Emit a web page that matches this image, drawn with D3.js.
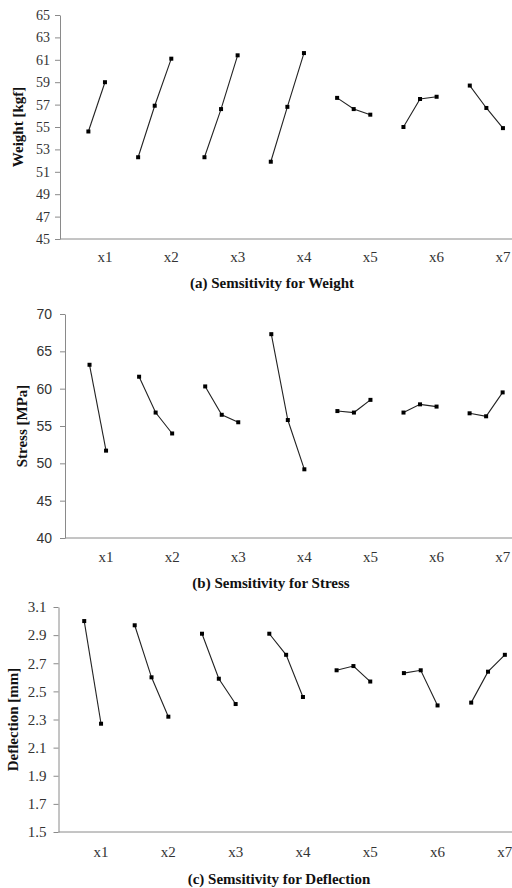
<!DOCTYPE html>
<html>
<head>
<meta charset="utf-8">
<script src="https://cdn.jsdelivr.net/npm/d3@7"></script>
<style>
    body { margin: 0; background: #fff; }
    svg { display: block; }
    .serif { font-family: "Liberation Serif", "Times New Roman", serif; }
    .sans { font-family: "Liberation Sans", Arial, sans-serif; }
</style>
</head>
<body>
<div id="chart"></div>
<script>
// factors and their levels (x1 has only two levels)
const factors = ["x1", "x2", "x3", "x4", "x5", "x6", "x7"];
const levels = ["L1", "L2", "L3"];

// values, one row per factor, one entry per level
const weightValues = [
    [null, 54.6, 59.0],
    [52.3, 56.9, 61.1],
    [52.3, 56.6, 61.4],
    [51.9, 56.8, 61.6],
    [57.6, 56.6, 56.1],
    [55.0, 57.5, 57.7],
    [58.7, 56.7, 54.9]
];
const stressValues = [
    [null, 63.2, 51.7],
    [61.6, 56.8, 54.0],
    [60.3, 56.5, 55.5],
    [67.3, 55.8, 49.2],
    [57.0, 56.8, 58.5],
    [56.8, 57.9, 57.6],
    [56.7, 56.3, 59.5]
];
const deflectionValues = [
    [null, 3.00, 2.27],
    [2.97, 2.60, 2.32],
    [2.91, 2.59, 2.41],
    [2.91, 2.76, 2.46],
    [2.65, 2.68, 2.57],
    [2.63, 2.65, 2.40],
    [2.42, 2.64, 2.76]
];

// tick labels
const weightTicks = [45, 47, 49, 51, 53, 55, 57, 59, 61, 63, 65];
const stressTicks = [40, 45, 50, 55, 60, 65, 70];
const deflectionTicks = [1.5, 1.7, 1.9, 2.1, 2.3, 2.5, 2.7, 2.9, 3.1];

const yTitles = ["Weight [kgf]", "Stress [MPa]", "Deflection [mm]"];
const captions = [
    "(a) Semsitivity for Weight",
    "(b) Semsitivity for Stress",
    "(c) Semsitivity for Deflection"
];

const width = 512,
    height = 888;

const svg = d3
    .select("#chart")
    .append("svg")
    .attr("width", width)
    .attr("height", height);

// each panel was a separate image, so each gets its own geometry
drawPanel({
    values: weightValues, ticks: weightTicks, yTitle: yTitles[0], caption: captions[0],
    top: 15, bottom: 239, axisX: 60, bandStart: 71.8, step: 66.33,
    tickFont: "serif", tickSize: 14, tickPad: 5, fmt: d3.format("d"),
    labelY: 257, captionX: 272, captionY: 283, yTitleX: 18
});
drawPanel({
    values: stressValues, ticks: stressTicks, yTitle: yTitles[1], caption: captions[1],
    top: 314, bottom: 538, axisX: 65, bandStart: 73, step: 66.1,
    tickFont: "sans", tickSize: 14, tickPad: 8, fmt: d3.format("d"),
    labelY: 557, captionX: 271, captionY: 583, yTitleX: 22
});
drawPanel({
    values: deflectionValues, ticks: deflectionTicks, yTitle: yTitles[2], caption: captions[2],
    top: 607, bottom: 832, axisX: 58.5, bandStart: 67.4, step: 67.3,
    tickFont: "serif", tickSize: 15, tickPad: 7, fmt: d3.format(".1f"),
    labelY: 852, captionX: 279, captionY: 879, yTitleX: 13
});

function drawPanel(p) {
    const g = svg.append("g");

    const y = d3
        .scaleLinear()
        .domain(d3.extent(p.ticks))
        .range([p.bottom, p.top]);

    // one band per factor, levels spread over the first half of the band
    const x = d3
        .scaleBand()
        .domain(factors)
        .range([p.bandStart, p.bandStart + factors.length * p.step]);
    const lx = d3
        .scalePoint()
        .domain(levels)
        .range([0, x.bandwidth() / 2]);

    // y axis
    const yAxis = g
        .append("g")
        .attr("transform", "translate(" + p.axisX + ",0)")
        .call(d3.axisLeft(y).tickValues(p.ticks).tickFormat(p.fmt)
            .tickSize(5).tickSizeOuter(0).tickPadding(p.tickPad));
    yAxis.selectAll("path, line").attr("stroke", "#8a8a8a");
    yAxis.selectAll("text")
        .attr("class", p.tickFont)
        .attr("font-size", p.tickSize)
        .attr("fill", "#333");

    // x axis baseline runs past the right edge (cropped)
    g.append("line")
        .attr("x1", p.axisX)
        .attr("x2", width)
        .attr("y1", p.bottom)
        .attr("y2", p.bottom)
        .attr("stroke", "#8a8a8a");

    g.selectAll(".xlab")
        .data(factors)
        .enter()
        .append("text")
        .attr("class", "serif")
        .attr("x", (d) => x(d) + x.bandwidth() / 2)
        .attr("y", p.labelY)
        .attr("dy", "0.35em")
        .attr("text-anchor", "middle")
        .attr("font-size", 15)
        .attr("fill", "#333")
        .text((d) => d);

    const line = d3
        .line()
        .defined((d) => d.v != null)
        .x((d) => x(d.f) + lx(d.l))
        .y((d) => y(d.v));

    factors.forEach((f, i) => {
        const pts = levels.map((l, j) => ({ f: f, l: l, v: p.values[i][j] }));
        g.append("path")
            .datum(pts)
            .attr("d", line)
            .attr("fill", "none")
            .attr("stroke", "#222")
            .attr("stroke-width", 1.1);
        g.selectAll(null)
            .data(pts.filter((d) => d.v != null))
            .enter()
            .append("rect")
            .attr("x", (d) => x(d.f) + lx(d.l) - 2)
            .attr("y", (d) => y(d.v) - 2)
            .attr("width", 4)
            .attr("height", 4)
            .attr("fill", "#000");
    });

    // axis titles
    g.append("text")
        .attr("class", "serif")
        .attr("transform", "translate(" + p.yTitleX + "," + (p.top + p.bottom) / 2 + ") rotate(-90)")
        .attr("dy", "0.35em")
        .attr("text-anchor", "middle")
        .attr("font-size", 15)
        .attr("font-weight", "bold")
        .attr("fill", "#111")
        .text(p.yTitle);

    g.append("text")
        .attr("class", "serif")
        .attr("x", p.captionX)
        .attr("y", p.captionY)
        .attr("dy", "0.35em")
        .attr("text-anchor", "middle")
        .attr("font-size", 15)
        .attr("font-weight", "bold")
        .attr("fill", "#111")
        .text(p.caption);
}
</script>
</body>
</html>
